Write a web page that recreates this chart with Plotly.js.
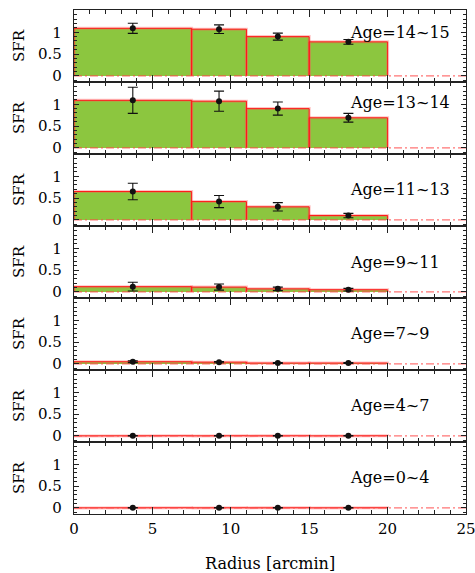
<!DOCTYPE html>
<html><head><meta charset="utf-8">
<script src="https://cdn.plot.ly/plotly-3.0.1.min.js"></script>
<style>html,body{margin:0;padding:0;background:#fff}#chart{width:475px;height:573px}</style>
</head><body><div id="chart"></div>
<script>
// ---- data ----
const binEdges = [0, 7.5, 11, 15, 20];
const radiusCenters = [3.75, 9.25, 13, 17.5];
const ageLabels = ['Age=14~15', 'Age=13~14', 'Age=11~13', 'Age=9~11', 'Age=7~9', 'Age=4~7', 'Age=0~4'];
const sfr_14_15 = [1.09, 1.07, 0.90, 0.78];
const err_14_15 = [0.115, 0.10, 0.08, 0.055];
const sfr_13_14 = [1.09, 1.07, 0.90, 0.69];
const err_13_14 = [0.30, 0.23, 0.15, 0.10];
const sfr_11_13 = [0.65, 0.42, 0.30, 0.10];
const err_11_13 = [0.19, 0.14, 0.095, 0.05];
const sfr_9_11 = [0.12, 0.11, 0.07, 0.05];
const err_9_11 = [0.10, 0.07, 0.04, 0.03];
const sfr_7_9 = [0.05, 0.04, 0.02, 0.02];
const err_7_9 = [0.02, 0.015, 0.01, 0.01];
const sfr_4_7 = [0.003, 0.003, 0.003, 0.003];
const err_4_7 = [0.005, 0.005, 0.005, 0.005];
const sfr_0_4 = [0.003, 0.003, 0.003, 0.003];
const err_0_4 = [0.005, 0.005, 0.005, 0.005];
const xTickVals = [0, 5, 10, 15, 20, 25];
const yTickVals = [0, 0.5, 1];
const yTickText = ['0', '0.5', '1'];

const sfrSeries = [sfr_14_15, sfr_13_14, sfr_11_13, sfr_9_11, sfr_7_9, sfr_4_7, sfr_0_4];
const errSeries = [err_14_15, err_13_14, err_11_13, err_9_11, err_7_9, err_4_7, err_0_4];

// ---- layout helpers ----
const labelY = [1.0, 1.04, 0.7, 0.67, 0.69, 0.7, 0.69];
const nP = 7;
const FONT = '"DejaVu Serif", "Liberation Serif", serif';
const traces = [];
const layout = {
  width: 475, height: 573,
  margin: {l: 74, r: 9, t: 10, b: 59},
  paper_bgcolor: '#fff', plot_bgcolor: '#fff',
  showlegend: false,
  font: {family: FONT, size: 15, color: '#000'},
  annotations: []
};
const binWidths = binEdges.slice(1).map((e, i) => e - binEdges[i]);
const binMids = binEdges.slice(1).map((e, i) => (e + binEdges[i]) / 2);

for (let k = 0; k < nP; k++) {
  const xa = k === 0 ? 'x' : 'x' + (k + 1);
  const ya = k === 0 ? 'y' : 'y' + (k + 1);
  const vals = sfrSeries[k];
  const ox = [], oy = [];
  vals.forEach((v, i) => {
    ox.push(binEdges[i], binEdges[i], binEdges[i + 1], binEdges[i + 1], null);
    oy.push(0, v, v, 0, null);
  });
  traces.push({type: 'bar', x: binMids, y: vals, width: binWidths, xaxis: xa, yaxis: ya,
    marker: {color: '#8cc63f', line: {width: 0}}, hoverinfo: 'skip'});
  traces.push({type: 'scatter', mode: 'lines', x: ox, y: oy, xaxis: xa, yaxis: ya,
    line: {color: 'rgba(255,90,90,0.35)', width: 3}, hoverinfo: 'skip'});
  traces.push({type: 'scatter', mode: 'lines', x: ox, y: oy, xaxis: xa, yaxis: ya,
    line: {color: '#ff1a1a', width: 1}, hoverinfo: 'skip'});
  traces.push({type: 'scatter', mode: 'lines', x: [xTickVals[0], xTickVals[xTickVals.length - 1]], y: [0, 0],
    xaxis: xa, yaxis: ya, line: {color: 'rgba(255,70,70,0.75)', width: 1.2, dash: '8px,3px,2px,3px'}, hoverinfo: 'skip'});
  traces.push({type: 'scatter', mode: 'markers', x: radiusCenters, y: vals, xaxis: xa, yaxis: ya,
    marker: {color: '#111', size: 6},
    error_y: {type: 'data', array: errSeries[k], visible: true, color: '#111', thickness: 1.1, width: 5}});

  const top = 1 - k / nP, bot = 1 - (k + 1) / nP;
  const xKey = k === 0 ? 'xaxis' : 'xaxis' + (k + 1);
  const yKey = k === 0 ? 'yaxis' : 'yaxis' + (k + 1);
  layout[xKey] = {
    domain: [0, 1], range: [0, 25], anchor: ya, matches: k === 0 ? undefined : 'x',
    tickmode: 'array', tickvals: xTickVals, ticktext: xTickVals.map(String),
    ticks: 'inside', ticklen: 7, tickwidth: 1, tickcolor: '#222',
    minor: {ticks: 'inside', tickmode: 'linear', tick0: 0, dtick: 1, ticklen: 4, tickwidth: 1, tickcolor: '#222'},
    showline: true, linecolor: '#222', linewidth: 1.2, mirror: 'ticks',
    showgrid: false, zeroline: false,
    showticklabels: k === nP - 1, ticklabelstandoff: 1, ticklabeloverflow: 'allow',
    tickfont: {family: FONT, size: 15, color: '#000'}
  };
  layout[yKey] = {
    domain: [bot, top], range: [-0.14, 1.51], anchor: xa,
    tickmode: 'array', tickvals: yTickVals, ticktext: yTickText,
    ticks: 'inside', ticklen: 5, tickwidth: 1, tickcolor: '#222',
    minor: {ticks: 'inside', tickmode: 'linear', tick0: 0, dtick: 0.1, ticklen: 3, tickwidth: 1, tickcolor: '#222'},
    showline: true, linecolor: '#222', linewidth: 1.2, mirror: 'ticks',
    showgrid: false, zeroline: false, ticklabelstandoff: 8,
    tickfont: {family: FONT, size: 15, color: '#000'}
  };
  layout.annotations.push({text: ageLabels[k], xref: xa, yref: ya, x: 17.5, y: labelY[k],
    xanchor: 'left', yanchor: 'middle', showarrow: false, font: {family: FONT, size: 16, color: '#000'}});
  layout.annotations.push({text: 'SFR', xref: 'paper', yref: 'paper', x: 0, y: (top + bot) / 2,
    xshift: -55, xanchor: 'center', yanchor: 'middle', textangle: -90, showarrow: false,
    font: {family: FONT, size: 15, color: '#000'}});
}
layout.annotations.push({text: 'Radius [arcmin]', xref: 'paper', yref: 'paper', x: 0.5, y: 0,
  yshift: -49, xanchor: 'center', yanchor: 'middle', showarrow: false,
  font: {family: FONT, size: 16, color: '#000'}});

Plotly.newPlot('chart', traces, layout, {staticPlot: true, displayModeBar: false});
</script></body></html>
